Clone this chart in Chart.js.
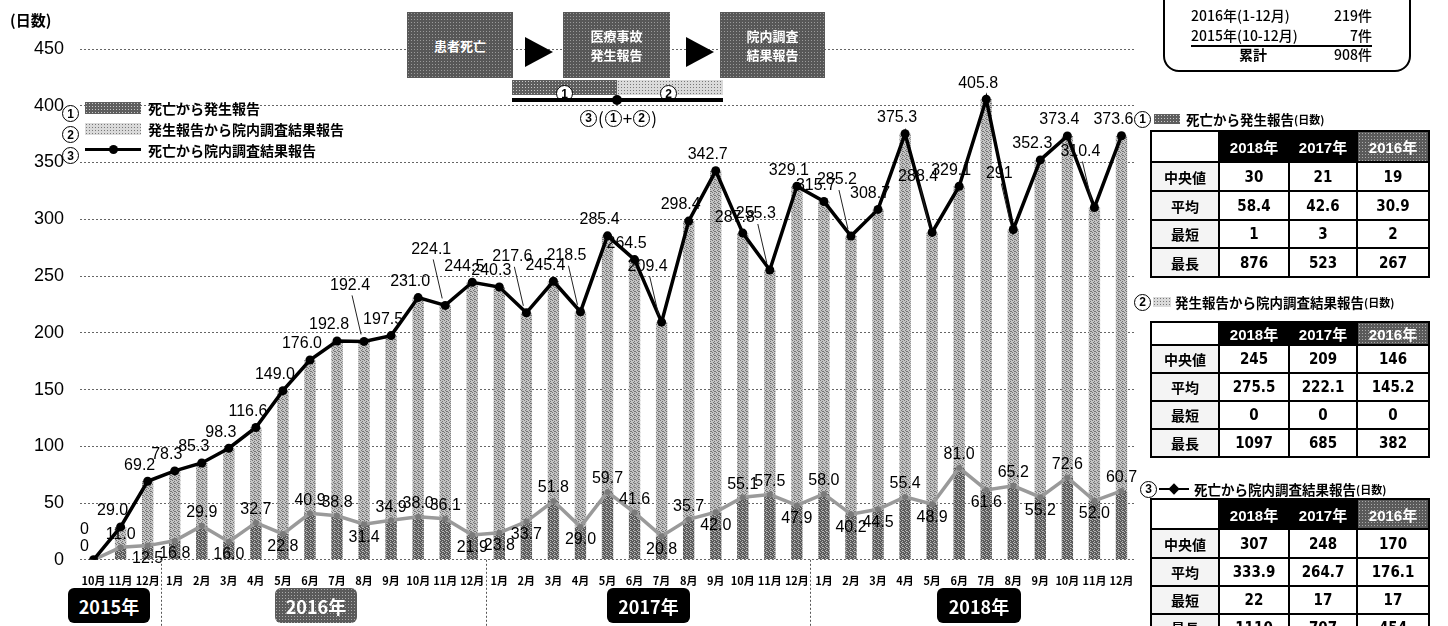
<!DOCTYPE html>
<html lang="ja">
<head>
<meta charset="utf-8">
<script src="https://cdn.jsdelivr.net/npm/chart.js@4.4.1/dist/chart.umd.min.js"></script>
<style>
html, body { margin: 0; padding: 0; width: 1448px; height: 626px; overflow: hidden; background: #fff; color: #000; font-family: "Noto Sans CJK JP", sans-serif; }
#wrap { position: relative; width: 1448px; height: 626px; overflow: hidden; }
#chart { position: absolute; left: 0; top: 0; }
.abs { position: absolute; white-space: nowrap; }
.pat1 { background-color: #5e5e5e; background-image: radial-gradient(circle, #c8c8c8 0.8px, transparent 0.9px); background-size: 3px 3px; }
.pat2 { background-color: #dadada; background-image: radial-gradient(circle, #777 0.8px, transparent 0.9px); background-size: 3px 3px; }
.circ { display: inline-flex; box-sizing: border-box; width: 17px; height: 17px; border: 1.6px solid #000; border-radius: 50%; align-items: center; justify-content: center; font: 700 12px "Liberation Sans", sans-serif; line-height: 1; color: #000; vertical-align: middle; }
.circ.w { background: #fff; }
.leg { font-size: 14px; font-weight: 700; line-height: 16px; }
.flow { background-color: #575757; background-image: radial-gradient(circle, #9a9a9a 0.8px, transparent 0.9px); background-size: 3px 3px; color: #fff; font-size: 13px; font-weight: 700; display: flex; flex-direction: column; align-items: center; justify-content: center; line-height: 19px; }
.tri { width: 0; height: 0; border-top: 15px solid transparent; border-bottom: 15px solid transparent; border-left: 28px solid #000; }
.year { color: #fff; font-size: 18px; font-weight: 700; border-radius: 6px; display: flex; align-items: center; justify-content: center; background: #000; }
.year.gray { background-color: #5a5a5a; background-image: radial-gradient(circle, #aaa 0.8px, transparent 0.9px); background-size: 3px 3px; }
.cnt { font-size: 14px; font-weight: 500; line-height: 16px; }
.ttl { font-size: 13.5px; font-weight: 700; line-height: 18px; display: flex; align-items: center; }
.ttl small { font-size: 11px; }
table { border-collapse: collapse; table-layout: fixed; width: 278px; }
td { border: 2px solid #000; padding: 0; text-align: center; vertical-align: middle; }
td.corner { background: #fff; }
td.hd { background: #000; color: #fff; font-weight: 700; font-size: 15px; font-family: "Liberation Sans", "Noto Sans CJK JP", sans-serif; }
td.hd span, td.hd2 span { font-family: "Noto Sans CJK JP", sans-serif; }
td.hd2 { background-color: #5a5a5a; background-image: radial-gradient(circle, #aaa 0.8px, transparent 0.9px); background-size: 3px 3px; color: #fff; font-weight: 700; font-size: 15px; font-family: "Liberation Sans", sans-serif; }
td.rl { background-color: #f4f4f4; background-image: radial-gradient(circle, #aaa 0.6px, transparent 0.7px); background-size: 4px 4px; font-weight: 700; font-size: 14px; }
td.cv { background: #fff; font-weight: 700; font-size: 15px; font-family: "Liberation Sans Narrow", "DejaVu Sans Condensed", sans-serif; }
</style>
</head>
<body>
<div id="wrap">
  <canvas id="chart" width="1448" height="626"></canvas>

  <div class="abs" style="left:10px;top:9px;font-size:15px;font-weight:700;">(日数)</div>

  <!-- legend inside the plot -->
  <div class="abs" style="left:62px;top:99px;"><span class="circ w">1</span></div>
  <div class="abs pat1" style="left:85px;top:102px;width:56px;height:12px;"></div>
  <div class="abs leg" style="left:148px;top:100px;">死亡から発生報告</div>
  <div class="abs" style="left:62px;top:120px;"><span class="circ w">2</span></div>
  <div class="abs pat2" style="left:85px;top:123px;width:56px;height:12px;"></div>
  <div class="abs leg" style="left:148px;top:121px;">発生報告から院内調査結果報告</div>
  <div class="abs" style="left:62px;top:141px;"><span class="circ w">3</span></div>
  <div class="abs" style="left:85px;top:148px;width:56px;height:3px;background:#000;"></div>
  <div class="abs" style="left:109px;top:145px;width:9px;height:9px;border-radius:50%;background:#000;"></div>
  <div class="abs leg" style="left:148px;top:142px;">死亡から院内調査結果報告</div>

  <!-- flow diagram -->
  <div class="abs flow" style="left:407px;top:12px;width:106px;height:66px;">患者死亡</div>
  <div class="abs tri" style="left:525px;top:37px;"></div>
  <div class="abs flow" style="left:563px;top:12px;width:107px;height:66px;"><span>医療事故</span><span>発生報告</span></div>
  <div class="abs tri" style="left:686px;top:37px;"></div>
  <div class="abs flow" style="left:720px;top:12px;width:105px;height:66px;"><span>院内調査</span><span>結果報告</span></div>
  <div class="abs pat1" style="left:512px;top:80px;width:105px;height:15px;"></div>
  <div class="abs pat2" style="left:617px;top:80px;width:106px;height:15px;"></div>
  <div class="abs" style="left:556px;top:79px;"><span class="circ w">1</span></div>
  <div class="abs" style="left:660px;top:79px;"><span class="circ w">2</span></div>
  <div class="abs" style="left:512px;top:98px;width:211px;height:4px;background:#000;"></div>
  <div class="abs" style="left:612px;top:95px;width:10px;height:10px;border-radius:50%;background:#000;"></div>
  <div class="abs" style="left:580px;top:108px;font-size:17px;line-height:20px;display:flex;align-items:center;gap:1px;"><span class="circ">3</span>(<span class="circ">1</span>+<span class="circ">2</span>)</div>

  <!-- count box -->
  <div class="abs" style="left:1163px;top:-40px;width:244px;height:108px;border:2px solid #000;border-radius:16px;"></div>
  <div id="counts"></div>

  <!-- stat tables -->
  <div class="abs ttl" style="left:1134px;top:110px;"><span class="circ">1</span><span class="pat1" style="display:inline-block;width:26px;height:10px;margin:0 6px 0 3px;"></span>死亡から発生報告<small>(日数)</small></div>
  <div class="abs" id="tbl1" style="left:1150px;top:130px;"></div>
  <div class="abs ttl" style="left:1134px;top:293px;"><span class="circ">2</span><span class="pat2" style="display:inline-block;width:18px;height:10px;margin:0 4px 0 2px;"></span>発生報告から院内調査結果報告<small>(日数)</small></div>
  <div class="abs" id="tbl2" style="left:1150px;top:321px;"></div>
  <div class="abs ttl" style="left:1140px;top:480px;"><span class="circ">3</span><span style="display:inline-block;position:relative;width:30px;height:10px;margin:0 5px 0 2px;"><span style="position:absolute;left:0;top:4px;width:30px;height:2px;background:#000;"></span><span style="position:absolute;left:11px;top:1px;width:8px;height:8px;background:#000;transform:rotate(45deg);"></span></span>死亡から院内調査結果報告<small>(日数)</small></div>
  <div class="abs" id="tbl3" style="left:1150px;top:498px;"></div>

  <!-- year boxes -->
  <div id="years"></div>
</div>

<script>
(function () {
    "use strict";

    const months = [
        "10月", "11月", "12月",
        "1月", "2月", "3月", "4月", "5月", "6月", "7月", "8月", "9月", "10月", "11月", "12月",
        "1月", "2月", "3月", "4月", "5月", "6月", "7月", "8月", "9月", "10月", "11月", "12月",
        "1月", "2月", "3月", "4月", "5月", "6月", "7月", "8月", "9月", "10月", "11月", "12月",
    ];
    // ③ 死亡から院内調査結果報告 (total)
    const total = [
        0, 29.0, 69.2,
        78.3, 85.3, 98.3, 116.6, 149.0, 176.0, 192.8, 192.4, 197.5, 231.0, 224.1, 244.5,
        240.3, 217.6, 245.4, 218.5, 285.4, 264.5, 209.4, 298.4, 342.7, 287.8, 255.3, 329.1,
        315.7, 285.2, 308.7, 375.3, 288.4, 329.1, 405.8, 291, 352.3, 373.4, 310.4, 373.6,
    ];
    // ① 死亡から発生報告
    const phase1 = [
        0, 11.0, 12.5,
        16.8, 29.9, 16.0, 32.7, 22.8, 40.9, 38.8, 31.4, 34.9, 38.0, 36.1, 21.9,
        23.8, 33.7, 51.8, 29.0, 59.7, 41.6, 20.8, 35.7, 42.0, 55.1, 57.5, 47.9,
        58.0, 40.2, 44.5, 55.4, 48.9, 81.0, 61.6, 65.2, 55.2, 72.6, 52.0, 60.7,
    ];
    // ② 発生報告から院内調査結果報告
    const phase2 = [
        0, 18.0, 56.7,
        61.5, 55.4, 82.3, 83.9, 126.2, 135.1, 154.0, 161.0, 162.6, 193.0, 188.0, 222.6,
        216.5, 183.9, 193.6, 189.5, 225.7, 222.9, 188.6, 262.7, 300.7, 232.7, 197.8, 281.2,
        257.7, 245.0, 264.2, 319.9, 239.5, 248.1, 344.2, 225.8, 297.1, 300.8, 258.4, 312.9,
    ];
    const yTicks = [0, 50, 100, 150, 200, 250, 300, 350, 400, 450];
    const yearNames = ["2015年", "2016年", "2017年", "2018年"];
    const yearStarts = [0, 3, 15, 27];

    const countLabels = ["2016年(1-12月)", "2015年(10-12月)", "累計"];
    const countValues = ["219件", "7件", "908件"];

    const statYears = ["2018", "2017", "2016"];
    const statRows = ["中央値", "平均", "最短", "最長"];
    const stat1 = [["30", "21", "19"], ["58.4", "42.6", "30.9"], ["1", "3", "2"], ["876", "523", "267"]];
    const stat2 = [["245", "209", "146"], ["275.5", "222.1", "145.2"], ["0", "0", "0"], ["1097", "685", "382"]];
    const stat3 = [["307", "248", "170"], ["333.9", "264.7", "176.1"], ["22", "17", "17"], ["1110", "707", "454"]];

    // --- side tables / boxes ---
    function buildTable(id, rows, heights) {
        let h = '<table><colgroup><col style="width:68px"><col style="width:70px"><col style="width:68px"><col style="width:72px"></colgroup>';
        h += `<tr style="height:${heights[0]}px"><td class="corner"></td>` +
            statYears.map((y, j) => `<td class="${j === 2 ? "hd2" : "hd"}">${y}<span>年</span></td>`).join("") + "</tr>";
        rows.forEach((r, i) => {
            h += `<tr style="height:${heights[i + 1]}px"><td class="rl">${statRows[i]}</td>` +
                r.map((v) => `<td class="cv">${v}</td>`).join("") + "</tr>";
        });
        document.getElementById(id).innerHTML = h + "</table>";
    }
    buildTable("tbl1", stat1, [31, 29, 29, 28, 29]);
    buildTable("tbl2", stat2, [23, 28, 28, 28, 28]);
    buildTable("tbl3", stat3, [30, 29, 28, 28, 28]);

    const countTops = [7, 27, 46];
    document.getElementById("counts").innerHTML = countLabels.map((l, i) => `
        <div class="abs cnt" style="left:${i === 2 ? 1239 : 1191}px;top:${countTops[i]}px;${i === 2 ? "font-weight:700;" : ""}">${l}</div>
        <div class="abs cnt" style="right:${1448 - 1372}px;top:${countTops[i]}px;">${countValues[i]}</div>
    `).join("") + `<div class="abs" style="left:1191px;top:45px;width:181px;height:1.5px;background:#000;"></div>`;

    // --- bar fill patterns ---
    function dither(base, dot) {
        const c = document.createElement("canvas");
        c.width = 4; c.height = 4;
        const g = c.getContext("2d");
        g.fillStyle = base; g.fillRect(0, 0, 4, 4);
        g.fillStyle = dot;
        [[0, 0], [2, 1], [1, 2], [3, 3], [2, 3]].forEach(([x, y]) => g.fillRect(x, y, 1, 1));
        return g.createPattern(c, "repeat");
    }
    const fill1 = dither("#5a5a5a", "#b4b4b4");
    const fill2 = dither("#c4c4c4", "#747474");

    const fmt = (v, i) => (v === 0 || i === 34) ? String(v) : v.toFixed(1);

    // labels: ① above local peaks / below dips; ③ up-left, dips lifted with a leader line
    const valueLabels = {
        id: "valueLabels",
        afterDatasetsDraw(chart) {
            const c = chart.ctx;
            c.save();
            c.font = '16px "Liberation Sans", Arial, sans-serif';
            c.fillStyle = "#000";
            c.strokeStyle = "#222";
            c.lineWidth = 1;
            c.textAlign = "center";
            chart.getDatasetMeta(1).data.forEach((pt, i) => {
                const prev = i > 0 ? phase1[i - 1] : phase1[i];
                const next = i < phase1.length - 1 ? phase1[i + 1] : phase1[i];
                const up = i === 0 || phase1[i] >= (prev + next) / 2;
                c.textBaseline = up ? "bottom" : "top";
                c.fillText(fmt(phase1[i], -1), i === 0 ? pt.x - 9 : pt.x, up ? pt.y - 5 : pt.y + 5);
            });
            chart.getDatasetMeta(0).data.forEach((pt, i) => {
                c.textBaseline = "bottom";
                if (i === 0) { c.fillText("0", pt.x - 9, pt.y - 22); return; }
                const dip = i < total.length - 1 && total[i] < total[i - 1] && total[i] < total[i + 1];
                const lift = dip ? 48 : 8;
                const lx = pt.x - (dip ? 14 : 8);
                if (dip) {
                    c.beginPath();
                    c.moveTo(pt.x - 3, pt.y - 7);
                    c.lineTo(lx + 2, pt.y - lift + 2);
                    c.stroke();
                }
                c.fillText(fmt(total[i], i), lx, pt.y - lift);
            });
            c.restore();
        },
    };

    const yearSeparators = {
        id: "yearSeparators",
        afterDraw(chart) {
            const c = chart.ctx, x = chart.scales.x;
            c.save();
            c.strokeStyle = "#555";
            c.lineWidth = 1;
            c.setLineDash([2, 2]);
            yearStarts.slice(1).forEach((s) => {
                const px = Math.round((x.getPixelForValue(s - 1) + x.getPixelForValue(s)) / 2) + 0.5;
                c.beginPath();
                c.moveTo(px, chart.chartArea.bottom);
                c.lineTo(px, 626);
                c.stroke();
            });
            c.restore();
        },
    };

    new Chart(document.getElementById("chart"), {
        type: "bar",
        data: {
            labels: months,
            datasets: [
                { type: "line", label: "死亡から院内調査結果報告", data: total, borderColor: "#000", borderWidth: 3.5, pointRadius: 4.5, pointBackgroundColor: "#000", pointBorderWidth: 0, stack: "s3", order: 1 },
                { type: "line", label: "死亡から発生報告 line", data: phase1, borderColor: "#9a9a9a", borderWidth: 3.5, pointRadius: 3, pointBackgroundColor: "#7a7a7a", pointBorderWidth: 0, stack: "s1", order: 2 },
                { type: "bar", label: "死亡から発生報告", data: phase1, backgroundColor: fill1, stack: "bars", order: 3, barPercentage: 0.42, categoryPercentage: 1 },
                { type: "bar", label: "発生報告から院内調査結果報告", data: phase2, backgroundColor: fill2, stack: "bars", order: 3, barPercentage: 0.42, categoryPercentage: 1 },
            ],
        },
        options: {
            responsive: false,
            animation: false,
            layout: { padding: { top: 49, left: 18, right: 313, bottom: 33 } },
            plugins: { legend: { display: false }, tooltip: { enabled: false } },
            scales: {
                x: {
                    stacked: true,
                    grid: { display: false },
                    border: { display: false },
                    ticks: { color: "#000", autoSkip: false, maxRotation: 0, padding: 6, font: { family: "Noto Sans CJK JP", size: 11, weight: "bold" } },
                },
                y: {
                    stacked: true,
                    min: 0,
                    max: 450,
                    afterBuildTicks: (s) => { s.ticks = yTicks.map((v) => ({ value: v })); },
                    ticks: { color: "#000", padding: 16, font: { family: "Liberation Sans", size: 18 } },
                    grid: { color: "#666", lineWidth: 1, drawTicks: false },
                    border: { display: false, dash: [2, 2] },
                },
            },
        },
        plugins: [valueLabels, yearSeparators],
    });

    document.getElementById("years").innerHTML = [[68, 150], [275, 357], [607, 690], [937, 1021]].map(([l, r], i) =>
        `<div class="abs year${i === 1 ? " gray" : ""}" style="left:${l}px;top:588px;width:${r - l}px;height:35px;">${yearNames[i]}</div>`
    ).join("");
})();
</script>
</body>
</html>
